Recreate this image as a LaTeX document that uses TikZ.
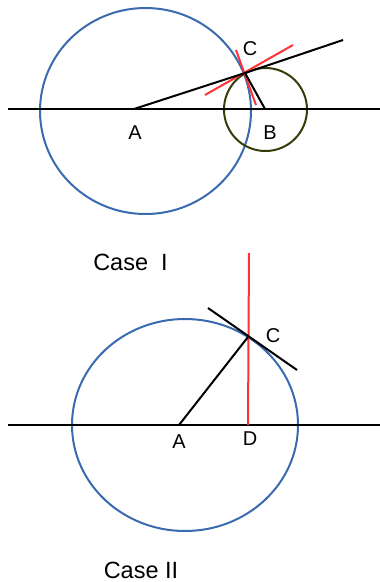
\documentclass[tikz,border=0pt]{standalone}
\usepackage{fontspec}
\setmainfont{Liberation Sans}
\begin{document}
\begin{tikzpicture}[x=1pt,y=-1pt,
  ln/.style={line width=2pt,black},
  bluec/.style={line width=2pt,draw=circblue},
  olivec/.style={line width=2pt,draw=circolive},
  redl/.style={line width=2pt,draw=redline},
  lbl/.style={font=\fontsize{20}{22}\selectfont,inner sep=0pt},
  casetext/.style={font=\fontsize{23.5}{26}\selectfont,inner sep=0pt}]
\definecolor{circblue}{RGB}{58,106,176}
\definecolor{circolive}{RGB}{52,62,8}
\definecolor{redline}{RGB}{255,51,51}
\useasboundingbox (0,0) rectangle (380,582);
% ---------- Case I ----------
\coordinate (L1) at (8,109);
\coordinate (R1) at (380,109);
\coordinate (A1) at (134,109);
\coordinate (C1) at (245,73);
\coordinate (E1) at (343,40);
\coordinate (B1) at (265,109);
\coordinate (r1a) at (205,95);
\coordinate (r1b) at (293,45);
\coordinate (r2a) at (236,50);
\coordinate (r2b) at (256,105);
\draw[bluec] (145.5,111) ellipse [x radius=105.5,y radius=103];
\draw[olivec] (265.5,109.5) circle [radius=41.5];
\draw[ln] (L1) -- (R1);
\draw[redl] (r1a) -- (r1b);
\draw[redl] (r2a) -- (r2b);
\draw[ln] (A1) -- (C1) -- (E1);
\draw[ln] (C1) -- (B1);
\node[lbl] (lC1) at (250,48.5) {C};
\node[lbl] (lA1) at (135,132.5) {A};
\node[lbl] (lB1) at (270,133) {B};
\node[casetext] (case1) at (130.5,262) {Case\ \ I};
% ---------- Case II ----------
\coordinate (L2) at (8,425);
\coordinate (R2) at (380,425);
\coordinate (A2) at (179,425);
\coordinate (C2) at (248,337);
\coordinate (T1) at (208,308);
\coordinate (T2) at (297,370);
\coordinate (Rt) at (249,253);
\coordinate (D2) at (248,425);
\draw[bluec] (185,425) ellipse [x radius=113,y radius=106];
\draw[ln] (L2) -- (R2);
\draw[redl] (Rt) -- (D2);
\draw[ln] (A2) -- (C2);
\draw[ln] (T1) -- (T2);
\node[lbl] (lC2) at (273,336) {C};
\node[lbl] (lA2) at (179,442) {A};
\node[lbl] (lD2) at (250,439) {D};
\node[casetext] (case2) at (141,570) {Case II};
\end{tikzpicture}
\end{document}
